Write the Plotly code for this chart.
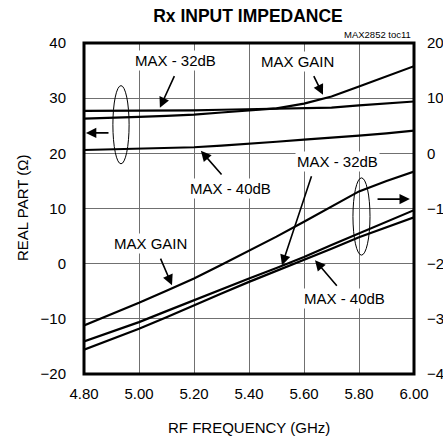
import plotly.graph_objects as go

# ---- data ----
freq = [4.8, 4.9, 5.0, 5.1, 5.2, 5.3, 5.4, 5.5, 5.6, 5.7, 5.8, 5.9, 6.0]

# real part (left axis, ohms)
real_max_gain = [26.3, 26.4, 26.6, 26.8, 27.0, 27.4, 27.8, 28.15, 29.0, 30.3, 32.1, 34.0, 35.8]
real_max_32 = [27.7, 27.7, 27.7, 27.7, 27.8, 27.9, 28.0, 28.1, 28.1, 28.3, 28.7, 29.0, 29.4]
real_max_40 = [20.6, 20.7, 20.8, 20.9, 21.1, 21.4, 21.7, 22.1, 22.5, 22.8, 23.2, 23.6, 24.1]

# imaginary part (right axis, ohms)
imag_max_gain = [-31.2, -29.2, -27.1, -24.9, -22.7, -20.2, -17.7, -15.1, -12.4, -9.6, -6.9, -5.0, -3.3]
imag_max_32 = [-34.1, -32.4, -30.6, -28.6, -26.6, -24.7, -22.7, -20.8, -18.8, -16.6, -14.5, -12.4, -10.3]
imag_max_40 = [-35.6, -33.7, -31.8, -29.7, -27.5, -25.4, -23.3, -21.3, -19.4, -17.3, -15.2, -13.4, -11.6]

x_ticks = [4.8, 5.0, 5.2, 5.4, 5.6, 5.8, 6.0]
x_tick_text = ["4.80", "5.00", "5.20", "5.40", "5.60", "5.80", "6.00"]
y_left_ticks = [-20, -10, 0, 10, 20, 30, 40]
y_right_ticks = [-40, -30, -20, -10, 0, 10, 20]

FONT = "Liberation Sans, Arial, Helvetica, sans-serif"
FS = 15

fig = go.Figure()
line = dict(color="black", width=2.2)
for ys in (real_max_gain, real_max_32, real_max_40):
    fig.add_trace(go.Scatter(x=freq, y=ys, mode="lines", line=line, yaxis="y",
                             showlegend=False, hoverinfo="skip"))
for ys in (imag_max_gain, imag_max_32, imag_max_40):
    fig.add_trace(go.Scatter(x=freq, y=ys, mode="lines", line=line, yaxis="y2",
                             showlegend=False, hoverinfo="skip"))

fig.update_layout(
    width=443, height=438,
    margin=dict(l=84, r=29, t=43, b=64, autoexpand=False),
    paper_bgcolor="white", plot_bgcolor="white",
    font=dict(family=FONT, size=FS, color="black"),
    showlegend=False,
    title=dict(text="<b>Rx INPUT IMPEDANCE</b>", x=248 / 443, xref="container", xanchor="center",
               y=1 - 16 / 438, yref="container", yanchor="middle",
               font=dict(family=FONT, size=17.5, color="black")),
    xaxis=dict(range=[4.8, 6.0], tickvals=x_ticks, ticktext=x_tick_text,
               showgrid=True, gridcolor="#707070", gridwidth=1, zeroline=False,
               showline=False, ticks="", ticklabelstandoff=9,
               tickfont=dict(family=FONT, size=FS, color="black")),
    yaxis=dict(range=[-20, 40], tickvals=y_left_ticks,
               showgrid=True, gridcolor="#707070", gridwidth=1, zeroline=False,
               showline=False, ticks="", ticklabelstandoff=17,
               tickfont=dict(family=FONT, size=FS, color="black")),
    yaxis2=dict(range=[-40, 20], tickvals=y_right_ticks, overlaying="y", side="right",
                showgrid=False, zeroline=False, showline=False, ticks="",
                ticklabelstandoff=12,
                tickfont=dict(family=FONT, size=FS, color="black")),
)

shapes = [
    dict(type="rect", xref="paper", yref="paper", x0=0, x1=1, y0=0, y1=1,
         line=dict(color="black", width=3), layer="above"),
    dict(type="circle", xref="x", yref="y", x0=4.905, x1=4.964, y0=18.1, y1=32.27,
         line=dict(color="black", width=1)),
    dict(type="circle", xref="x", yref="y", x0=5.778, x1=5.840, y0=1.55, y1=15.55,
         line=dict(color="black", width=1)),
]
fig.update_layout(shapes=shapes)

ann = []
# text labels
labels = [
    ("MAX - 32dB", 5.131, 36.8),
    ("MAX GAIN", 5.578, 36.6),
    ("MAX - 32dB", 5.72, 18.6),
    ("MAX - 40dB", 5.331, 13.7),
    ("MAX GAIN", 5.04, 3.7),
    ("MAX - 40dB", 5.749, -6.3),
]
for t, x, y in labels:
    ann.append(dict(text=t, x=x, y=y, xref="x", yref="y", showarrow=False,
                    xanchor="center", yanchor="middle", bgcolor="white",
                    borderpad=1, font=dict(family=FONT, size=FS, color="black")))
# arrows: (head_x, head_y, tail_x, tail_y)
arrows = [
    (5.076, 28.27, 5.131, 34.27),
    (5.669, 30.6, 5.633, 34.27),
    (5.52, -0.27, 5.629, 16.1),
    (5.225, 20.45, 5.305, 15.9),
    (5.12, -3.9, 5.076, 1.18),
    (5.64, 0.64, 5.724, -4.27),
    (4.807, 23.7, 4.8945, 23.7),
    (5.985, 11.7, 5.862, 11.7),
]
for hx, hy, tx, ty in arrows:
    ann.append(dict(text="", x=hx, y=hy, xref="x", yref="y", ax=tx, ay=ty,
                    axref="x", ayref="y", showarrow=True, arrowhead=2,
                    arrowsize=1.3, arrowwidth=1.6, arrowcolor="black", standoff=0))
# axis titles and note
ann.append(dict(text="RF FREQUENCY (GHz)", x=(248.5 - 84) / 330, y=(374 - 427) / 331,
                xref="paper", yref="paper",
                showarrow=False, xanchor="center", yanchor="middle",
                font=dict(family=FONT, size=FS, color="black")))
ann.append(dict(text="REAL PART (Ω)", x=(22 - 84) / 330, y=(374 - 208) / 331,
                xref="paper", yref="paper",
                showarrow=False, xanchor="center", yanchor="middle", textangle=-90,
                font=dict(family=FONT, size=FS, color="black")))
ann.append(dict(text="MAX2852 toc11", x=(413 - 84) / 330, y=(374 - 35) / 331,
                xref="paper", yref="paper",
                showarrow=False, xanchor="right", yanchor="middle",
                font=dict(family=FONT, size=9.5, color="black")))
fig.update_layout(annotations=ann)

fig.write_html("out.html", config={"displayModeBar": False, "staticPlot": True},
               post_script="document.body.style.margin='0';document.body.style.overflow='hidden';")
